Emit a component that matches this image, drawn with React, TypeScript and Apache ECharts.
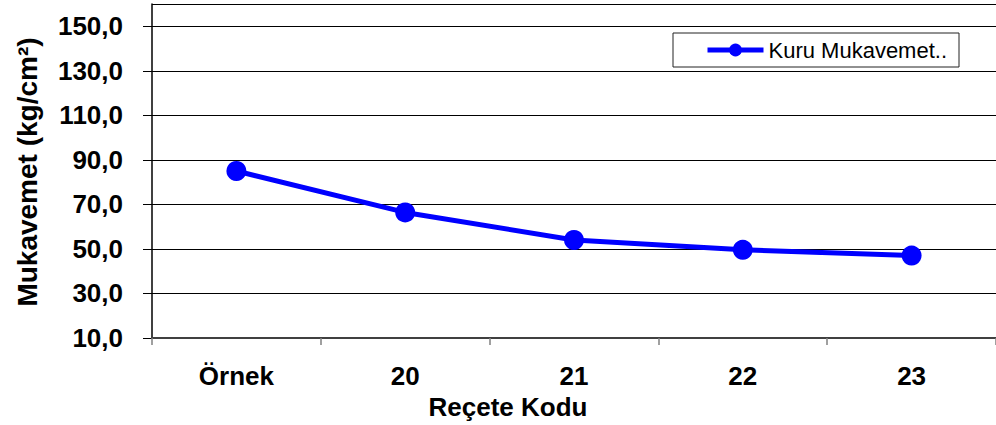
import React, { useEffect, useRef } from "react";
import * as echarts from "echarts";

const categories = ["Örnek", "20", "21", "22", "23"];
const kuruMukavemet = [85.0, 66.4, 54.0, 49.6, 47.0];
const seriesName = "Kuru Mukavemet..";
const yAxisTitle = "Mukavemet (kg/cm²)";
const xAxisTitle = "Reçete Kodu";
const yMin = 10;
const yMax = 160;
const yInterval = 20;

const FONT = "'Liberation Sans', Arial, Helvetica, sans-serif";

export default function App() {
  const ref = useRef<HTMLDivElement>(null);
  useEffect(() => {
    document.body.style.margin = "0";
    if (!ref.current) return;
    const chart = echarts.init(ref.current, null, { renderer: "svg" });
    chart.setOption({
      animation: false,
      backgroundColor: "#ffffff",
      textStyle: { fontFamily: FONT },
      grid: { left: 152, right: 0, top: 4, bottom: 87, containLabel: false },
      legend: {
        show: true,
        left: 673,
        top: 33,
        orient: "horizontal",
        padding: [6, 12, 6, 32],
        borderColor: "#222",
        borderWidth: 1,
        backgroundColor: "#fff",
        itemWidth: 56,
        itemHeight: 16,
        itemGap: 5,
        lineStyle: { width: 5, color: "#0000ff" },
        textStyle: { fontFamily: FONT, fontSize: 22, color: "#000" },
        data: [{ name: seriesName }],
      },
      xAxis: {
        type: "category",
        data: categories,
        boundaryGap: true,
        axisLine: { show: true, lineStyle: { color: "#404040", width: 2 } },
        axisTick: { show: true, length: 7, lineStyle: { color: "#808080", width: 1.5 } },
        axisLabel: {
          margin: 25,
          fontFamily: FONT,
          fontSize: 26,
          fontWeight: "bold",
          color: "#000",
        },
        splitLine: { show: false },
      },
      yAxis: {
        type: "value",
        min: yMin,
        max: yMax,
        interval: yInterval,
        axisLine: { show: true, lineStyle: { color: "#000", width: 1.5 } },
        axisTick: { show: true, length: 9, lineStyle: { color: "#000", width: 1 } },
        axisLabel: {
          margin: 29,
          fontFamily: FONT,
          fontSize: 26,
          fontWeight: "bold",
          color: "#000",
          showMaxLabel: false,
          formatter: (v: number) => (v === yMax ? "" : v.toFixed(1).replace(".", ",")),
        },
        splitLine: { show: true, lineStyle: { color: "#000", width: 1 } },
      },
      series: [
        {
          name: seriesName,
          type: "line",
          data: kuruMukavemet,
          symbol: "circle",
          symbolSize: 20,
          lineStyle: { color: "#0000ff", width: 5 },
          itemStyle: { color: "#0000ff" },
          z: 5,
        },
      ],
      graphic: [
        {
          type: "text",
          x: 508,
          y: 407,
          style: {
            text: xAxisTitle,
            fontFamily: FONT,
            fontSize: 26,
            fontWeight: "bold",
            fill: "#000",
            align: "center",
            verticalAlign: "middle",
          },
        },
        {
          type: "text",
          x: 27,
          y: 172,
          rotation: Math.PI / 2,
          style: {
            text: yAxisTitle,
            fontFamily: FONT,
            fontSize: 28,
            fontWeight: "bold",
            fill: "#000",
            align: "center",
            verticalAlign: "middle",
          },
        },
      ],
    });
    return () => chart.dispose();
  }, []);
  return <div ref={ref} style={{ width: 996, height: 425 }} />;
}
